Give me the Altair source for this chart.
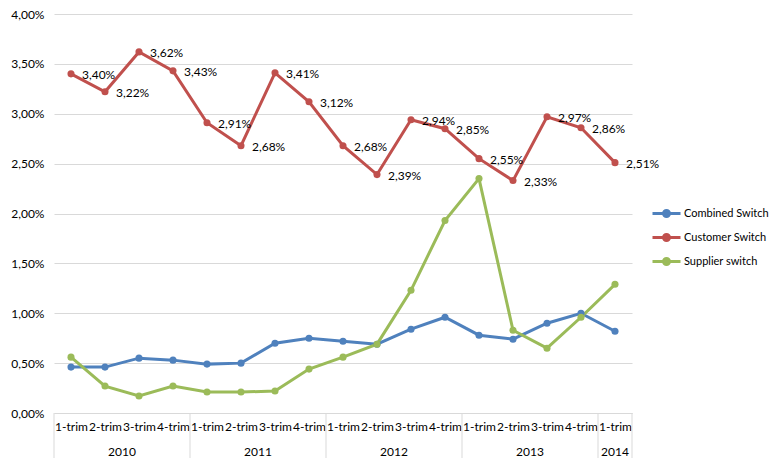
import altair as alt
import pandas as pd

# ---------------- data ----------------
period_idx = list(range(17))
trim_labels = ["1-trim", "2-trim", "3-trim", "4-trim",
               "1-trim", "2-trim", "3-trim", "4-trim",
               "1-trim", "2-trim", "3-trim", "4-trim",
               "1-trim", "2-trim", "3-trim", "4-trim",
               "1-trim"]
year_labels = ["2010", "2011", "2012", "2013", "2014"]
year_centers = [1.5, 5.5, 9.5, 13.5, 16.0]
year_bounds = [-0.5, 3.5, 7.5, 11.5, 15.5, 16.5]

combined = [0.46, 0.46, 0.55, 0.53, 0.49, 0.50, 0.70, 0.75, 0.72, 0.69,
            0.84, 0.96, 0.78, 0.74, 0.90, 1.00, 0.82]
customer = [3.40, 3.22, 3.62, 3.43, 2.91, 2.68, 3.41, 3.12, 2.68, 2.39,
            2.94, 2.85, 2.55, 2.33, 2.97, 2.86, 2.51]
supplier = [0.56, 0.27, 0.17, 0.27, 0.21, 0.21, 0.22, 0.44, 0.56, 0.69,
            1.23, 1.93, 2.35, 0.83, 0.65, 0.96, 1.29]

series_names = ["Combined Switch", "Customer Switch", "Supplier switch"]
series_colors = ["#4F81BD", "#C0504D", "#9BBB59"]
y_ticks = [0, 0.5, 1.0, 1.5, 2.0, 2.5, 3.0, 3.5, 4.0]

rows = []
for name, vals in zip(series_names, [combined, customer, supplier]):
    for i, v in zip(period_idx, vals):
        rows.append({"idx": i, "value": v, "series": name})
df = pd.DataFrame(rows)
df_years = pd.DataFrame({"idx": year_centers, "year": year_labels})
df_bounds = pd.DataFrame({"idx": year_bounds})

# ---------------- chart ----------------
W, H = 578, 399
FONT = "Lato"
GRID = "#d9d9d9"

label_js = "[" + ",".join("'" + t + "'" for t in trim_labels) + "][datum.value]"

x_enc = alt.X("idx:Q",
              scale=alt.Scale(domain=[-0.5, 16.5], nice=False, zero=False),
              axis=alt.Axis(values=period_idx, labelExpr=label_js, title=None,
                            grid=False, ticks=False, domainColor=GRID,
                            labelPadding=8, labelOverlap=False, labelFlush=False,
                            labelFontSize=12, labelFont=FONT, labelColor="#000000"))
y_enc = alt.Y("value:Q",
              scale=alt.Scale(domain=[0, 4], nice=False),
              axis=alt.Axis(values=y_ticks,
                            labelExpr="replace(format(datum.value,'.2f'),'.',',') + '%'",
                            title=None, ticks=False, domain=False, gridColor=GRID,
                            labelPadding=10, labelFontSize=12, labelFont=FONT,
                            labelColor="#000000"))

legend_path = "M-1.4,0L1.4,0M0.3,0A0.3,0.3,0,1,1,-0.3,0A0.3,0.3,0,1,1,0.3,0Z"
color_enc = alt.Color("series:N",
                      scale=alt.Scale(domain=series_names, range=series_colors),
                      legend=alt.Legend(title=None, orient="none",
                                        legendX=W + 23, legendY=188,
                                        symbolType=legend_path, symbolSize=400,
                                        symbolStrokeWidth=3, labelFontSize=11,
                                        labelFont=FONT, labelColor="#000000",
                                        rowPadding=3, labelOffset=6))

base = alt.Chart(df)
lines = base.mark_line(strokeWidth=3).encode(x=x_enc, y=y_enc, color=color_enc)
points = base.mark_point(filled=True, size=50, opacity=1).encode(
    x=x_enc, y=y_enc, color=color_enc)

labels = base.transform_filter(alt.datum.series == "Customer Switch").transform_calculate(
    lab="replace(format(datum.value,'.2f'),'.',',') + '%'"
).mark_text(align="left", baseline="middle", dx=11, dy=1, fontSize=12, font=FONT,
            color="#000000").encode(x=x_enc, y=y_enc, text="lab:N")

year_text = alt.Chart(df_years).mark_text(fontSize=12, font=FONT, color="#000000",
                                          baseline="middle").encode(
    x=x_enc, y=alt.value(H + 39), text="year:N")

separators = alt.Chart(df_bounds).mark_rule(color=GRID, strokeWidth=1).encode(
    x=x_enc, y=alt.value(H), y2=alt.value(H + 45))

chart = alt.layer(lines, points, labels, year_text, separators).properties(
    width=W, height=H,
    padding={"left": 2, "top": 0, "right": 0, "bottom": 0}
).configure(font=FONT).configure_view(stroke=None)

chart.save("out.html", embed_options={"renderer": "svg", "actions": False})
